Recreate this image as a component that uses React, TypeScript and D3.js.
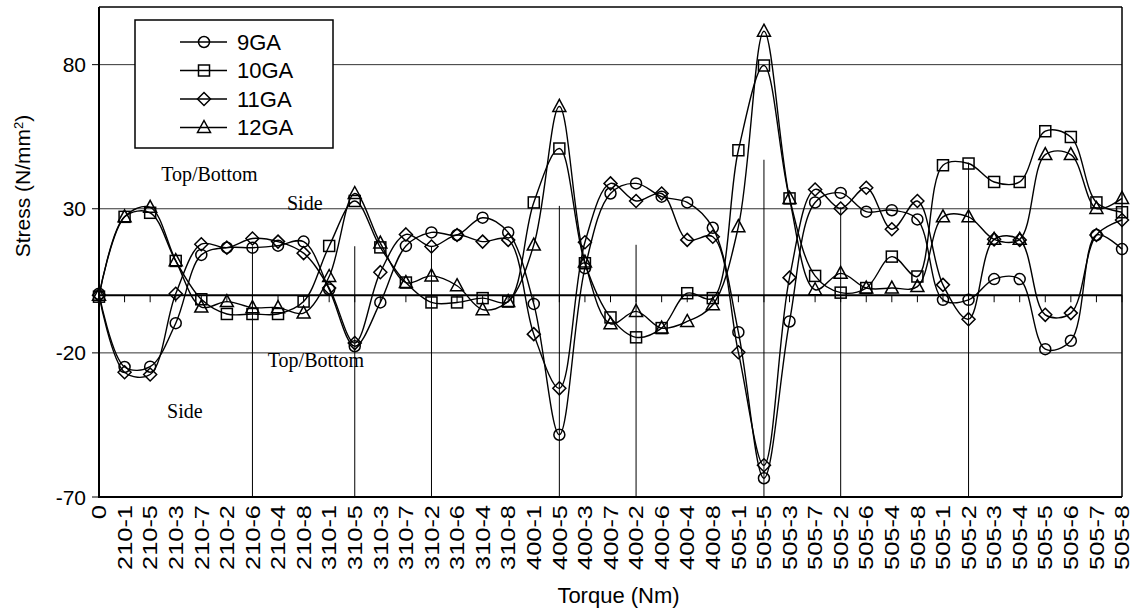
import React from "react";
import * as d3 from "d3";

const categories = ["0","210-1","210-5","210-3","210-7","210-2","210-6","210-4","210-8","310-1","310-5","310-3","310-7","310-2","310-6","310-4","310-8","400-1","400-5","400-3","400-7","400-2","400-6","400-4","400-8","505-1","505-5","505-3","505-7","505-2","505-6","505-4","505-8","505-1","505-2","505-3","505-4","505-5","505-6","505-7","505-8"];

const ga9 = [0.5,-24.9,-24.8,-9.7,14,16.5,16.5,17.2,18.6,2,-17.7,-2.5,17.1,21.8,20.9,26.9,21.8,-3,-48.4,9.4,35.3,38.8,34.2,32.2,23.4,-12.8,-63.5,-9.1,32.2,35.5,29,29.5,26.3,-1.6,-1.6,5.6,5.6,-18.7,-15.8,20.9,16];
const ga10 = [-0.5,27.2,28.6,11.9,-1.4,-6.5,-6.5,-6.5,-2.2,17.1,32.7,16.6,4.4,-2.5,-2.5,-1,-2.2,32.2,50.9,11.1,-7.7,-14.6,-11.4,0.7,-1,50.3,79.7,33.6,6.7,0.9,2.5,13.4,6.5,45.1,45.7,39.3,39.3,56.9,54.9,32.2,28.8];
const ga11 = [0,-26.7,-27.5,0.5,17.7,16.5,19.7,18.6,14.6,2.5,-16.6,8,21.1,16.9,20.9,18.6,19.2,-13.5,-32.3,18.4,38.8,32.7,35.3,19.2,20.3,-19.8,-59,6.1,36.7,30.1,37.3,22.9,32.7,3.6,-8.3,19.4,19.2,-6.8,-6.2,20.9,26.1];
const ga12 = [0,27.2,30.5,12,-4.1,-2.2,-4.3,-4.3,-6.2,6.5,35.3,18.1,4.4,6.7,3.3,-5,-2.2,17.4,65.5,11.5,-9.9,-5.6,-11.4,-9.1,-3.3,23.8,91.6,33.6,1.9,7.6,2.5,2.5,3,27.2,27.2,19.4,19.4,48.8,48.8,30.1,33.6];

const seriesNames = ["9GA", "10GA", "11GA", "12GA"];
const seriesValues = [ga9, ga10, ga11, ga12];
const seriesMarkers = ["circle", "square", "diamond", "triangle"];

const yTicks = [-70, -20, 30, 80];
const yDomain = [-70, 100];

// vertical divider lines: category index and value of top end
const dividerIdx = [6, 10, 13, 18, 21, 26, 29, 34];
const dividerTop = [17, 17, 17, 31, 17.5, 47, 30.5, 46];

// annotation texts: fractional category position and value (baseline)
const noteTexts = ["Top/Bottom", "Side", "Top/Bottom", "Side"];
const notePos = [[2.43, 39.5], [7.35, 29.5], [6.6, -25], [2.66, -42.5]];

const W = 1136, H = 612;
const left = 99, right = 1122, top = 7, bottom = 497;

function Marker({ type, x, y }: { type: string; x: number; y: number }) {
  const s = 5.5;
  const common = { fill: "none", stroke: "#000", strokeWidth: 1.5 };
  if (type === "circle") return <circle cx={x} cy={y} r={s} {...common} />;
  if (type === "square") return <rect x={x - s} y={y - s} width={2 * s} height={2 * s} {...common} />;
  if (type === "diamond")
    return <path d={`M${x},${y - 6.5}L${x + 6.5},${y}L${x},${y + 6.5}L${x - 6.5},${y}Z`} {...common} />;
  return <path d={`M${x},${y - 7}L${x + 6.5},${y + 5}L${x - 6.5},${y + 5}Z`} {...common} />;
}

export default function App() {
  const x = d3.scalePoint<number>().domain(categories.map((_, i) => i)).range([left, right]);
  const y = d3.scaleLinear().domain(yDomain).range([bottom, top]);
  const line = d3
    .line<number>()
    .x((_, i) => x(i) as number)
    .y((d) => y(d))
    .curve(d3.curveCatmullRom.alpha(0.5));

  const sans = "'Liberation Sans', Arial, sans-serif";
  const serif = "'Liberation Serif', 'Times New Roman', serif";

  return (
    <svg width={W} height={H} style={{ position: "absolute", left: 0, top: 0, background: "#fff" }}>
      <rect x={0} y={0} width={W} height={H} fill="#fff" />
      {/* gridlines */}
      {yTicks.filter((t) => t !== -70).map((t) => (
        <line key={t} x1={left} x2={right} y1={y(t)} y2={y(t)} stroke="#333" strokeWidth={1} />
      ))}
      {/* frame */}
      <line x1={left} x2={right} y1={top} y2={top} stroke="#000" strokeWidth={1.5} />
      <line x1={right} x2={right} y1={top} y2={bottom} stroke="#000" strokeWidth={1.5} />
      <line x1={left} x2={right} y1={bottom} y2={bottom} stroke="#000" strokeWidth={2} />
      {/* divider lines */}
      {dividerIdx.map((ci, k) => (
        <line key={k} x1={x(ci)} x2={x(ci)} y1={y(dividerTop[k])} y2={bottom} stroke="#000" strokeWidth={1} />
      ))}
      {/* zero axis with ticks */}
      <line x1={left} x2={right} y1={y(0)} y2={y(0)} stroke="#000" strokeWidth={2} />
      {categories.map((_, i) => (
        <line key={i} x1={x(i)} x2={x(i)} y1={y(0)} y2={y(0) + 7} stroke="#000" strokeWidth={1} />
      ))}
      {/* y axis */}
      <line x1={left} x2={left} y1={top} y2={bottom + 1} stroke="#000" strokeWidth={2} />
      {yTicks.map((t) => (
        <g key={t}>
          <line x1={left - 7} x2={left} y1={y(t)} y2={y(t)} stroke="#000" strokeWidth={1} />
          <text x={left - 13} y={y(t)} dy="0.36em" textAnchor="end" fontFamily={sans} fontSize={21}>
            {t}
          </text>
        </g>
      ))}
      {/* x tick labels */}
      {categories.map((c, i) => (
        <text
          key={i}
          transform={`translate(${x(i)},${bottom + 8}) rotate(-90) scale(1.27,1)`}
          textAnchor="end"
          dy="0.36em"
          fontFamily={sans}
          fontSize={20}
        >
          {c}
        </text>
      ))}
      {/* annotations */}
      {noteTexts.map((t, k) => (
        <text
          key={k}
          x={left + (notePos[k][0] * (right - left)) / (categories.length - 1)}
          y={y(notePos[k][1])}
          fontFamily={serif}
          fontSize={20}
        >
          {t}
        </text>
      ))}
      {/* series */}
      {seriesValues.map((vals, s) => (
        <g key={s}>
          <path d={line(vals) as string} fill="none" stroke="#000" strokeWidth={1.4} />
          {vals.map((v, i) => (
            <Marker key={i} type={seriesMarkers[s]} x={x(i) as number} y={y(v)} />
          ))}
        </g>
      ))}
      {/* legend */}
      <g>
        <rect x={135} y={20} width={198} height={128} fill="#fff" stroke="#000" strokeWidth={1.5} />
        {seriesNames.map((n, s) => {
          const ly = 42 + s * 28.5;
          return (
            <g key={n}>
              <line x1={180} x2={227} y1={ly} y2={ly} stroke="#000" strokeWidth={1.4} />
              <Marker type={seriesMarkers[s]} x={204} y={ly} />
              <text x={237} y={ly} dy="0.36em" fontFamily={sans} fontSize={22}>
                {n}
              </text>
            </g>
          );
        })}
      </g>
      {/* axis titles */}
      <text x={(left + right) / 2 + 8} y={603} textAnchor="middle" fontFamily={sans} fontSize={22}>
        Torque (Nm)
      </text>
      <text transform="translate(30,186) rotate(-90)" textAnchor="middle" fontFamily={sans} fontSize={21}>
        Stress (N/mm
        <tspan baselineShift="super" fontSize={13}>2</tspan>)
      </text>
    </svg>
  );
}
